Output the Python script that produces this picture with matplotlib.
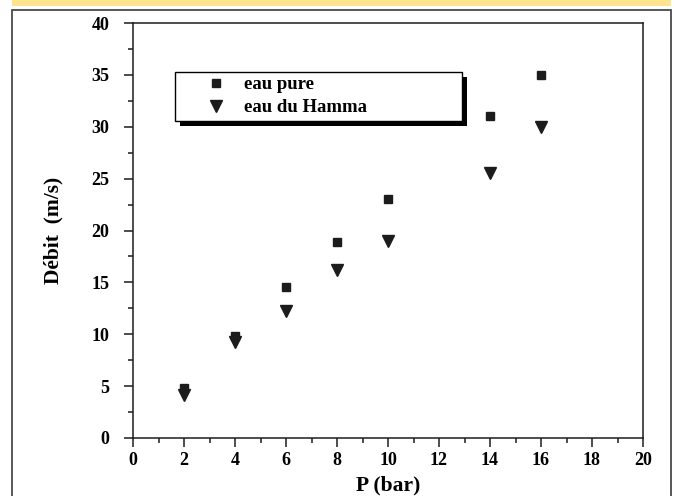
import matplotlib
matplotlib.use('Agg')
from matplotlib import pyplot as plt
from matplotlib.patches import Rectangle
from matplotlib.ticker import MultipleLocator

# data
pressure = [2, 4, 6, 8, 10, 14, 16]
flow_pure = [4.8, 9.8, 14.6, 18.9, 23.0, 31.0, 35.0]
flow_hamma = [4.1, 9.3, 12.2, 16.2, 19.0, 25.5, 30.0]
labels = ['eau pure', 'eau du Hamma']
x_label = 'P (bar)'
y_label = 'Débit  (m/s)'

plt.rcParams['font.family'] = ['Liberation Serif', 'DejaVu Serif']
plt.rcParams['font.weight'] = 'bold'

W, H = 676, 496
fig = plt.figure(figsize=(W / 100, H / 100), dpi=100)

# yellow band on top and grey outer frame (figure pixels)
fig.patches.append(Rectangle((12 / W, 1 - 6 / H), 659 / W, 6 / H, transform=fig.transFigure,
                             facecolor='#ffe48f', edgecolor='none', zorder=0))
fig.patches.append(Rectangle((12 / W, -0.01), 659 / W, 1 - 10 / H + 0.01, transform=fig.transFigure,
                             facecolor='none', edgecolor='#4a4a4a', linewidth=1.3, zorder=0))

ax = fig.add_axes([133 / W, 1 - 438 / H, 510 / W, 415 / H])
ink = '#1c1c1c'
ax.plot(pressure, flow_pure, linestyle='none', marker='s', markersize=6,
        color=ink, label=labels[0], clip_on=False)
ax.plot(pressure, flow_hamma, linestyle='none', marker='v', markersize=8.5,
        color=ink, label=labels[1], clip_on=False)

ax.set_xlim(0, 20)
ax.set_ylim(0, 40)
ax.xaxis.set_major_locator(MultipleLocator(2))
ax.xaxis.set_minor_locator(MultipleLocator(1))
ax.yaxis.set_major_locator(MultipleLocator(5))
ax.yaxis.set_minor_locator(MultipleLocator(2.5))
ax.tick_params(which='major', direction='out', length=6.5, width=1.1, color=ink,
               labelsize=13, top=False, right=False)
ax.tick_params(which='minor', direction='out', length=3.8, width=1.1, color=ink,
               top=False, right=False)
ax.tick_params(axis='x', which='major', pad=3.5)
ax.tick_params(axis='y', which='major', pad=10.5)
for s in ax.spines.values():
    s.set_linewidth(1.1)
    s.set_color(ink)

ax.set_xlabel(x_label, fontsize=15.5, fontweight='bold', labelpad=5)
ax.set_ylabel(y_label, fontsize=15.5, fontweight='bold', labelpad=20)

leg = ax.legend(loc='upper left', bbox_to_anchor=(0.0824, 0.766, 0.5627, 0.1159),
                mode='expand', fontsize=13.5, frameon=True, fancybox=False,
                framealpha=1, edgecolor='black', borderpad=0.22, labelspacing=0.32,
                handlelength=3.9, handletextpad=-0.45, borderaxespad=0, numpoints=1)
leg.get_frame().set_linewidth(1.0)

# solid black drop shadow behind the legend box
fig.canvas.draw()
bb = leg.get_window_extent()
fig.patches.append(Rectangle((bb.x0 + 5, bb.y0 - 5), bb.width, bb.height, transform=None,
                             facecolor='black', edgecolor='none', zorder=1))
ax.set_zorder(2)
ax.patch.set_alpha(0)

fig.savefig('out.png', dpi=100)
